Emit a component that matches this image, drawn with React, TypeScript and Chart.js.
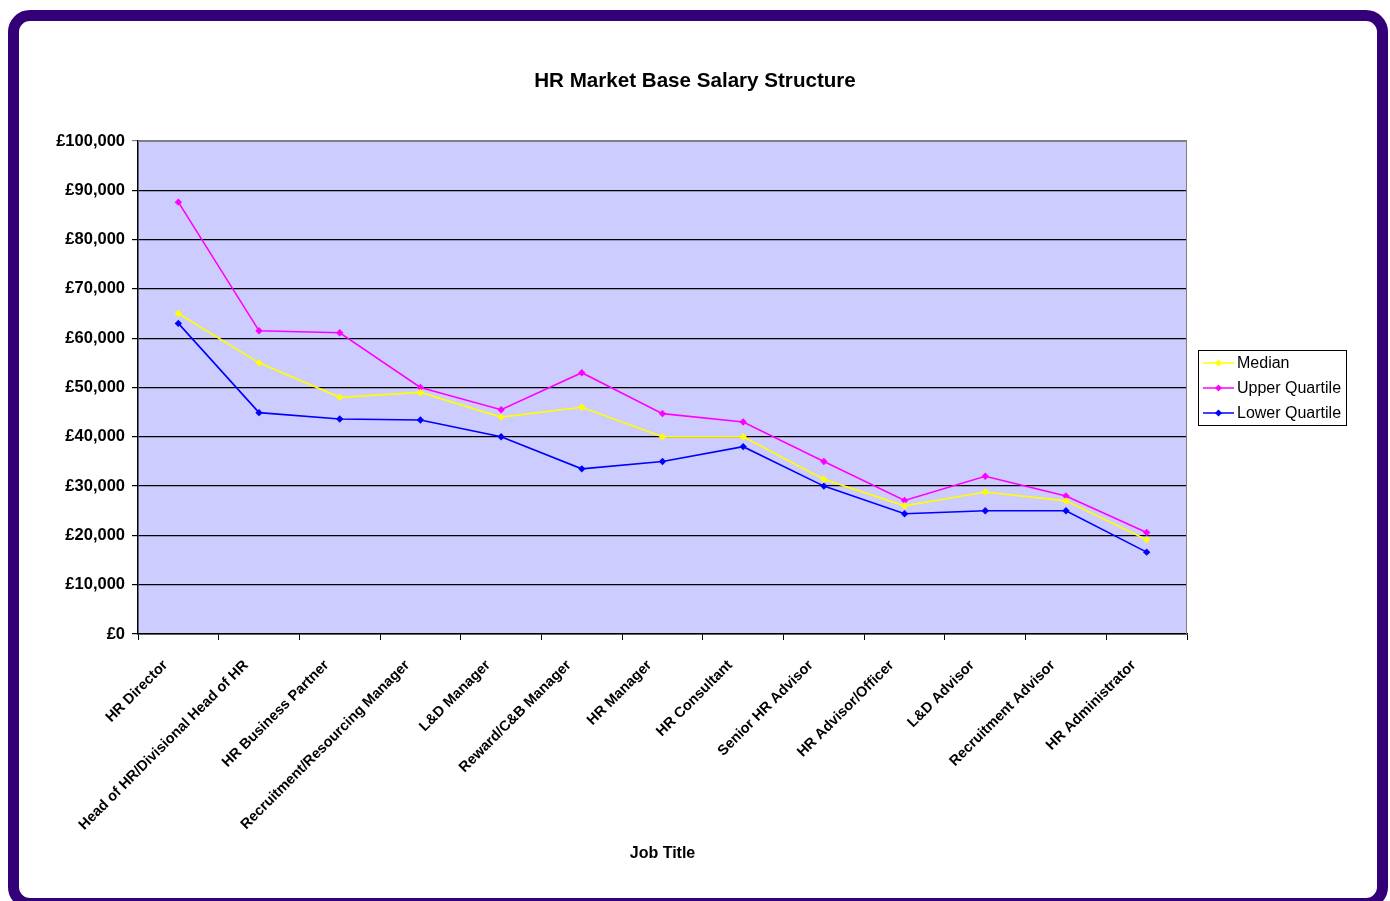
import React, { useEffect, useRef } from "react";
import { Chart, registerables } from "chart.js";

Chart.register(...registerables);

const jobTitles = [
  "HR Director",
  "Head of HR/Divisional Head of HR",
  "HR Business Partner",
  "Recruitment/Resourcing Manager",
  "L&D Manager",
  "Reward/C&B Manager",
  "HR Manager",
  "HR Consultant",
  "Senior HR Advisor",
  "HR Advisor/Officer",
  "L&D Advisor",
  "Recruitment Advisor",
  "HR Administrator",
];

const medianValues = [65000, 55000, 48000, 49000, 44000, 46000, 40000, 40000, 31400, 26000, 28800, 27000, 19100];
const upperQuartileValues = [87600, 61500, 61100, 50000, 45500, 53000, 44700, 43000, 35000, 27100, 32000, 28000, 20600];
const lowerQuartileValues = [63000, 44900, 43600, 43400, 40000, 33500, 35000, 38000, 30000, 24400, 25000, 25000, 16600];

const yTickValues = [0, 10000, 20000, 30000, 40000, 50000, 60000, 70000, 80000, 90000, 100000];

const chartTitle = "HR Market Base Salary Structure";

const FONT = "Arial, 'Liberation Sans', sans-serif";

const plotBackground = {
  id: "plotBackground",
  beforeDraw(chart: any) {
    const { ctx, chartArea } = chart;
    ctx.save();
    ctx.fillStyle = "#CCCCFF";
    ctx.fillRect(chartArea.left, chartArea.top, chartArea.right - chartArea.left, chartArea.bottom - chartArea.top);
    ctx.restore();
  },
  afterDatasetsDraw(chart: any) {
    const { ctx, chartArea } = chart;
    ctx.save();
    ctx.strokeStyle = "#808080";
    ctx.lineWidth = 1;
    ctx.beginPath();
    ctx.moveTo(chartArea.left, chartArea.top + 0.5);
    ctx.lineTo(chartArea.right - 0.5, chartArea.top + 0.5);
    ctx.lineTo(chartArea.right - 0.5, chartArea.bottom);
    ctx.stroke();
    ctx.restore();
  },
};

const extraText = {
  id: "extraText",
  afterDraw(chart: any) {
    const { ctx } = chart;
    const xs = chart.scales.x;
    ctx.save();
    ctx.fillStyle = "#000000";
    ctx.font = `bold 20.6px ${FONT}`;
    ctx.textAlign = "center";
    ctx.textBaseline = "middle";
    ctx.fillText(chartTitle, 1390 / 2, 81.5);
    ctx.font = `bold 14.5px ${FONT}`;
    ctx.textAlign = "right";
    ctx.textBaseline = "middle";
    (chart.data.labels as string[]).forEach((lab, i) => {
      const x = xs.getPixelForValue(i);
      ctx.save();
      ctx.translate(x - 13, xs.top + 29);
      ctx.rotate(-Math.PI / 4);
      ctx.fillText(lab, 0, 0);
      ctx.restore();
    });
    ctx.restore();
  },
};

const boxLegend = {
  id: "boxLegend",
  afterDraw(chart: any) {
    const { ctx } = chart;
    const x = 1198;
    const y = 350;
    const w = 148;
    const rowH = 25;
    const h = rowH * chart.data.datasets.length;
    ctx.save();
    ctx.fillStyle = "#ffffff";
    ctx.fillRect(x, y, w, h);
    ctx.strokeStyle = "#000000";
    ctx.lineWidth = 1;
    ctx.strokeRect(x + 0.5, y + 0.5, w, h);
    chart.data.datasets.forEach((ds: any, i: number) => {
      const cy = y + 13 + i * rowH;
      ctx.strokeStyle = ds.borderColor;
      ctx.lineWidth = 1.5;
      ctx.beginPath();
      ctx.moveTo(x + 5, cy);
      ctx.lineTo(x + 36, cy);
      ctx.stroke();
      ctx.fillStyle = ds.borderColor;
      ctx.beginPath();
      ctx.moveTo(x + 20.5, cy - 3.5);
      ctx.lineTo(x + 24, cy);
      ctx.lineTo(x + 20.5, cy + 3.5);
      ctx.lineTo(x + 17, cy);
      ctx.closePath();
      ctx.fill();
      ctx.fillStyle = "#000000";
      ctx.font = `16px ${FONT}`;
      ctx.textBaseline = "middle";
      ctx.textAlign = "left";
      ctx.fillText(ds.label, x + 39, cy + 1);
    });
    ctx.restore();
  },
};

export default function App() {
  const canvasRef = useRef<HTMLCanvasElement>(null);

  useEffect(() => {
    if (!canvasRef.current) return;
    const mk = (label: string, data: number[], color: string) => ({
      label,
      data,
      borderColor: color,
      backgroundColor: color,
      borderWidth: 1.6,
      pointStyle: "rectRot" as const,
      pointRadius: 3.7,
      pointHoverRadius: 3.7,
      pointBorderWidth: 0,
      tension: 0,
      fill: false,
    });
    const chart = new Chart(canvasRef.current, {
      type: "line",
      data: {
        labels: jobTitles,
        datasets: [
          mk("Median", medianValues, "#FFFF00"),
          mk("Upper Quartile", upperQuartileValues, "#FF00FF"),
          mk("Lower Quartile", lowerQuartileValues, "#0000FF"),
        ],
      },
      options: {
        responsive: false,
        animation: false,
        devicePixelRatio: 1,
        layout: { padding: { left: 20, right: 203, top: 20, bottom: 30 } },
        plugins: {
          legend: { display: false },
          tooltip: { enabled: false },
          title: {
            display: true,
            text: chartTitle,
            color: "rgba(0,0,0,0)",
            font: { family: FONT, size: 20, weight: "bold" },
            padding: { top: 49, bottom: 48 },
          },
        },
        scales: {
          x: {
            type: "category",
            offset: true,
            grid: {
              display: true,
              drawOnChartArea: false,
              drawTicks: true,
              tickLength: 6,
              offset: true,
              color: "#000000",
              lineWidth: 1,
            },
            border: { display: true, color: "#000000", width: 1.5 },
            ticks: {
              display: false,
              autoSkip: false,
            },
            title: {
              display: true,
              text: "Job Title",
              color: "#000000",
              font: { family: FONT, size: 16, weight: "bold" },
              padding: { top: 4, bottom: 8 },
            },
            afterFit(scale: any) {
              scale.height = 901 - 30 - 634;
            },
          },
          y: {
            min: 0,
            max: 100000,
            afterBuildTicks(scale: any) {
              scale.ticks = yTickValues.map((v) => ({ value: v }));
            },
            grid: {
              drawTicks: true,
              tickLength: 6,
              color: (c: any) => (c.tick && c.tick.value === 100000 ? "#808080" : "#000000"),
              lineWidth: 1.2,
            },
            border: { display: true, color: "#000000", width: 1.5 },
            ticks: {
              padding: 7,
              color: "#000000",
              font: { family: FONT, size: 16.5, weight: "bold" },
              callback: (v: any) => "£" + Number(v).toLocaleString("en-GB"),
            },
            afterFit(scale: any) {
              scale.width = 138 - 20;
            },
          },
        },
      },
      plugins: [plotBackground, extraText, boxLegend],
    });
    return () => chart.destroy();
  }, []);

  return (
    <div style={{ position: "fixed", left: 0, top: 0, width: 1390, height: 901, overflow: "hidden", background: "#ffffff" }}>
      <div
        style={{
          position: "absolute",
          left: 8,
          top: 10,
          width: 1380,
          height: 899,
          boxSizing: "border-box",
          border: "11px solid #330077",
          borderRadius: 22,
          background: "#ffffff",
        }}
      />
      <canvas ref={canvasRef} width={1390} height={901} style={{ position: "absolute", left: 0, top: 0, width: 1390, height: 901 }} />
    </div>
  );
}
